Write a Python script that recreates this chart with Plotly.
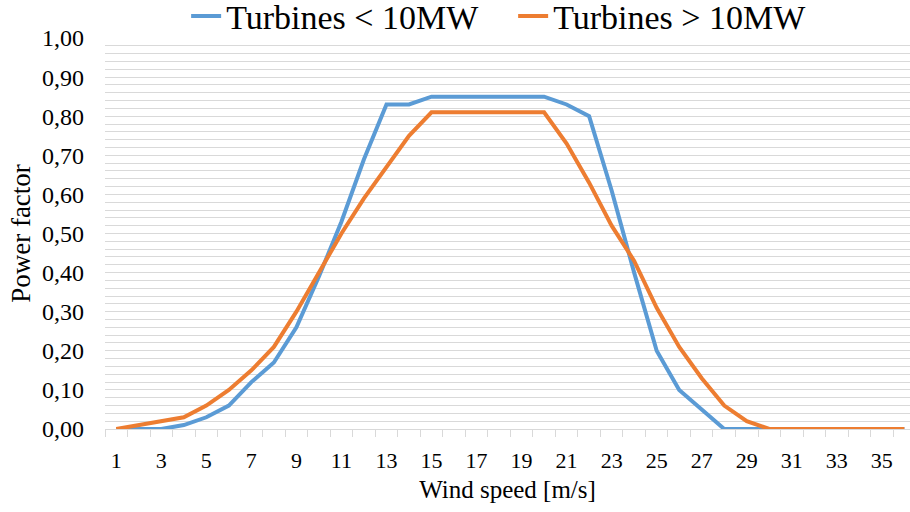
import plotly.graph_objects as go

wind_speed = list(range(1, 37))
small_turbines = [0.00, 0.00, 0.00, 0.01, 0.03, 0.06, 0.12, 0.17, 0.26, 0.39, 0.53, 0.69,
                  0.83, 0.83, 0.85, 0.85, 0.85, 0.85, 0.85, 0.85, 0.83, 0.80, 0.61, 0.40,
                  0.20, 0.10, 0.05, 0.00, 0.00, 0.00, 0.00, 0.00, 0.00, 0.00, 0.00, 0.00]
large_turbines = [0.00, 0.01, 0.02, 0.03, 0.06, 0.10, 0.15, 0.21, 0.30, 0.40, 0.50, 0.59,
                  0.67, 0.75, 0.81, 0.81, 0.81, 0.81, 0.81, 0.81, 0.73, 0.63, 0.52, 0.43,
                  0.31, 0.21, 0.13, 0.06, 0.02, 0.00, 0.00, 0.00, 0.00, 0.00, 0.00, 0.00]
series_names = ["Turbines < 10MW", "Turbines > 10MW"]
x_labels = [str(v) for v in range(1, 36, 2)]

FONT = "Liberation Serif, Times New Roman, serif"
GRID = "#d9d9d9"

fig = go.Figure()
fig.add_trace(go.Scatter(x=wind_speed, y=small_turbines, mode="lines", name=series_names[0],
                         line=dict(color="#5B9BD5", width=4)))
fig.add_trace(go.Scatter(x=wind_speed, y=large_turbines, mode="lines", name=series_names[1],
                         line=dict(color="#ED7D31", width=4)))

fig.update_layout(
    width=910, height=512,
    margin=dict(l=105, r=0, t=37.5, b=82.5, autoexpand=False),
    paper_bgcolor="white", plot_bgcolor="white",
    separators=", ",
    font=dict(family=FONT, color="black", size=22),
    legend=dict(orientation="h", x=0.507, xanchor="center", y=1.055, yanchor="middle",
                font=dict(size=34, family=FONT), itemwidth=30, tracegroupgap=0,
                entrywidth=282, entrywidthmode="pixels"),
    xaxis=dict(
        range=[0.5, 36.25],
        tickmode="array", tickvals=[int(v) for v in x_labels], ticktext=x_labels,
        ticks="", showgrid=False, zeroline=False,
        showline=True, linecolor=GRID, linewidth=1,
        tickfont=dict(size=22), ticklabelstandoff=12,
        minor=dict(tickmode="array", tickvals=[v + 0.5 for v in range(0, 37)],
                   ticks="outside", ticklen=7, tickcolor=GRID, tickwidth=1, showgrid=False),
        title=dict(text="Wind speed [m/s]", font=dict(size=25), standoff=8),
    ),
    yaxis=dict(
        range=[0, 1.0], dtick=0.1, tick0=0, tickformat=".2f",
        showgrid=True, gridcolor=GRID, gridwidth=1, zeroline=False,
        ticks="", tickfont=dict(size=24), ticklabelstandoff=20,
        minor=dict(dtick=0.02, tick0=0, showgrid=True, gridcolor=GRID, gridwidth=1),
        title=dict(text="Power factor", font=dict(size=27), standoff=3),
    ),
)

fig.write_html("out.html")
